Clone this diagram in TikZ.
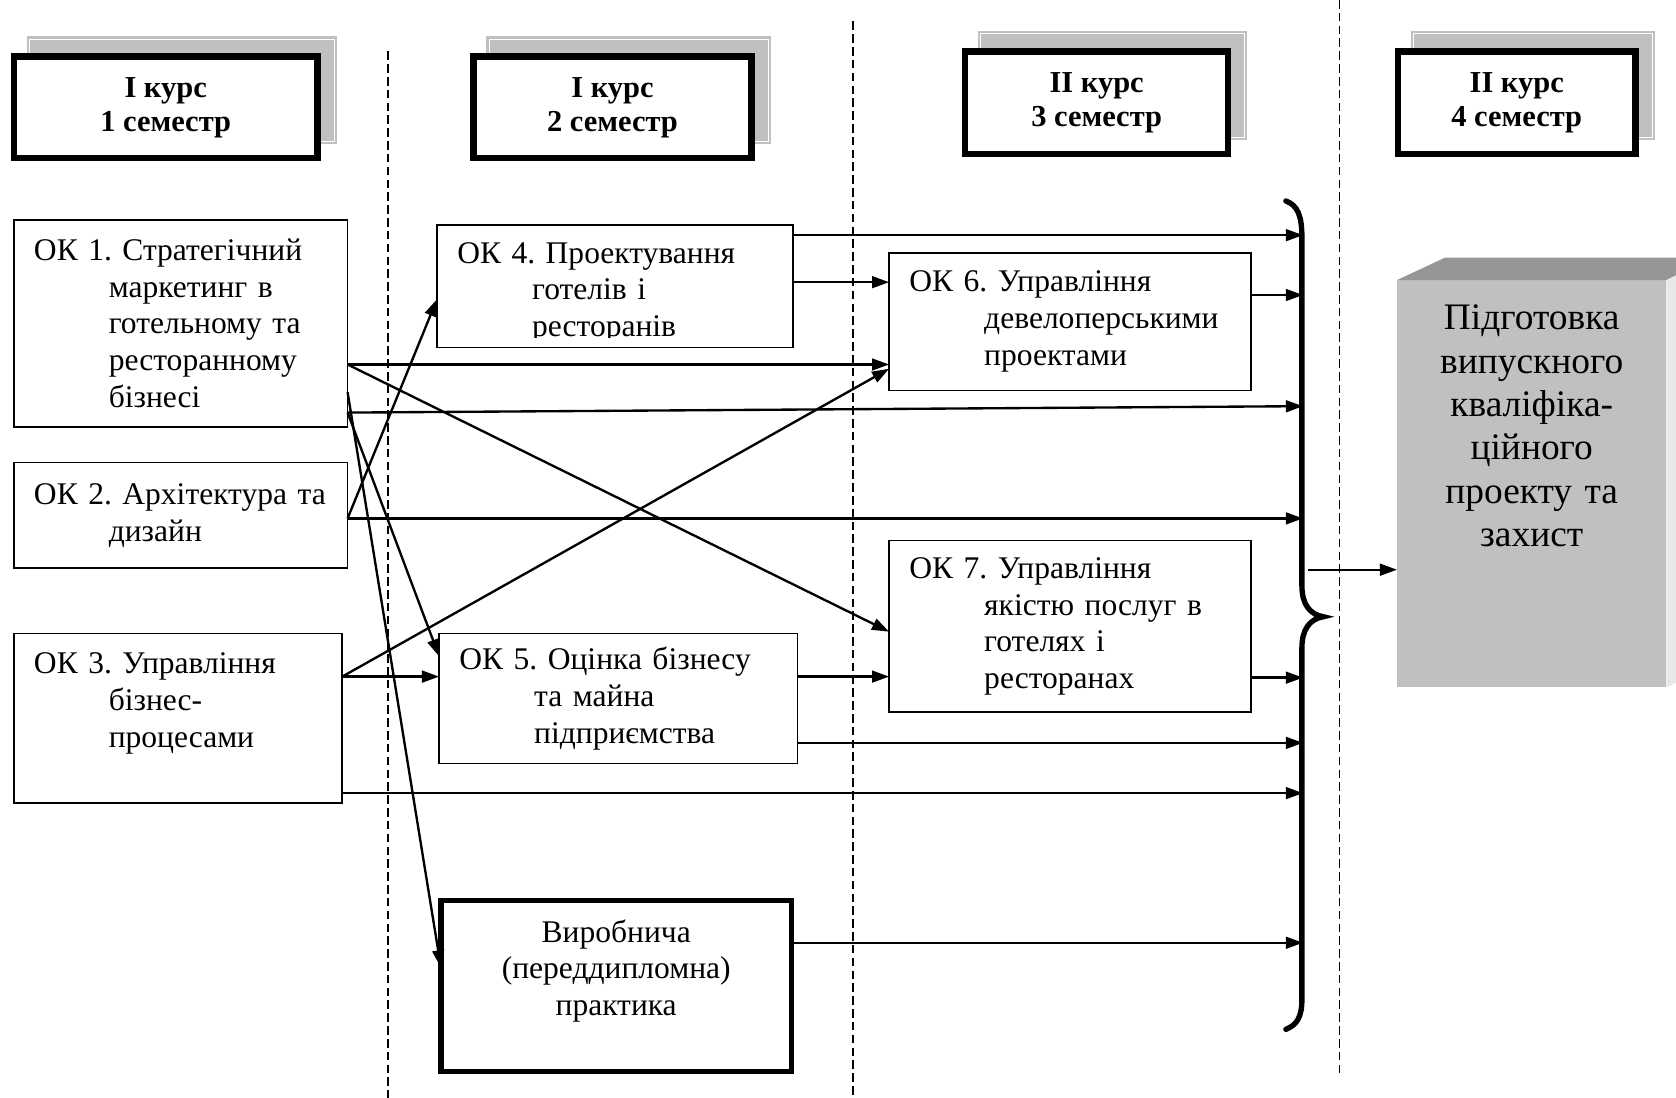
\documentclass[tikz,border=0pt]{standalone}
\usepackage{fontspec}
\setmainfont{Liberation Serif}
\frenchspacing
\usetikzlibrary{arrows.meta,backgrounds}
\definecolor{shadowgray}{RGB}{192,192,192}
\definecolor{topgray}{RGB}{150,150,150}
\definecolor{sidegray}{RGB}{232,232,232}
\newcommand{\indok}{\hspace*{70pt}}
\tikzset{
  okbox/.style={draw, line width=1.6pt, outer sep=0pt, inner xsep=19pt, inner ysep=0pt, align=left, font=\fontsize{29.5}{34.5}\selectfont},
  kursbox/.style={draw, fill=white, line width=6pt, outer sep=0pt, align=center, font=\bfseries\fontsize{28.5}{32}\selectfont},
  arr/.style={-{Triangle[length=16pt,width=11pt]}, line width=2.2pt},
  semline/.style={line width=1.3pt, dash pattern=on 8pt off 4pt}
}
\begin{document}
\begin{tikzpicture}[x=1pt,y=-1pt]
\useasboundingbox (0,0) rectangle (1568,1027);
\clip (0,0) rectangle (1568,1027);
\draw[semline] (363,48) -- (363,1027);
\draw[semline] (798,20) -- (798,1027);
\draw[semline] (1253,0) -- (1253,1005);
\node[kursbox, minimum width=284pt, minimum height=95pt] (h1) at (155,100.5) {I курс\\1 семестр};
\node[kursbox, minimum width=260pt, minimum height=95pt] (h2) at (573,100.5) {I курс\\2 семестр};
\node[kursbox, minimum width=246pt, minimum height=96pt] (h3) at (1026,96) {II курс\\3 семестр};
\node[kursbox, minimum width=222pt, minimum height=96pt] (h4) at (1419,96) {II курс\\4 семестр};
\begin{scope}[on background layer]
\foreach \h in {h1,h2,h3,h4}{
  \fill[shadowgray] ([shift={(12,-13)}]\h.south west) rectangle ([shift={(18,-19)}]\h.north east);
  \draw[white, line width=0.8pt] ([shift={(14.5,-15.5)}]\h.south west) rectangle ([shift={(15.5,-16.5)}]\h.north east);
}
\end{scope}
\node[okbox, text width=274.4pt, minimum height=193.4pt] (ok1) at (169,302.5) {ОК 1. Стратегічний\\\indok маркетинг в\\\indok готельному та\\\indok ресторанному\\\indok бізнесі};
\node[okbox, text width=274.4pt, minimum height=98.4pt] (ok2) at (169,482) {ОК 2. Архітектура та\\\indok дизайн};
\node[okbox, text width=269.4pt, minimum height=158.4pt] (ok3) at (166.5,672) {ОК 3. Управління\\\indok бізнес-\\\indok процесами\\\mbox{}};
\node[okbox, minimum width=333.4pt, minimum height=114.4pt] (ok4) at (575.5,268) {};
\begin{scope}
\clip (ok4.north west) rectangle ([yshift=9pt]ok4.south east);
\node[okbox, draw=none, text width=295.4pt, minimum height=114.4pt] (ok4t) at ([yshift=-6pt]ok4.center) {ОК 4. Проектування\\\indok готелів і\\\indok ресторанів};
\end{scope}
\node[okbox, text width=297.4pt, minimum height=121.4pt] (ok5) at (578.5,653.5) {ОК 5. Оцінка бізнесу\\\indok та майна\\\indok підприємства};
\node[okbox, text width=300.4pt, minimum height=128.4pt] (ok6) at (1001,301) {ОК 6. Управління\\\indok девелоперськими\\\indok проектами};
\node[okbox, text width=300.4pt, minimum height=160.4pt] (ok7) at (1001,586) {ОК 7. Управління\\\indok якістю послуг в\\\indok готелях і\\\indok ресторанах};
\node[draw, line width=5pt, outer sep=0pt, minimum width=328pt, minimum height=160pt, align=center, font=\fontsize{29.5}{34.5}\selectfont] (prak) at (576.5,922.5) {Виробнича\\(переддипломна)\\практика\\\mbox{}};
\node[fill=shadowgray, outer sep=0pt, inner sep=0pt, minimum width=252pt, minimum height=381pt, text width=240pt, align=center, font=\fontsize{35}{40.5}\selectfont] (vkr) at (1433,452.5) {Підготовка\\випускного\\кваліфіка-\\ційного\\проекту та\\захист\\[68pt]\mbox{}};
\fill[topgray] (vkr.north west) -- ++(45,-21) -- ([shift={(45,-21)}]vkr.north east) -- (vkr.north east) -- cycle;
\fill[sidegray] (vkr.north east) -- ++(45,-21) -- ([shift={(45,-21)}]vkr.south east) -- (vkr.south east) -- cycle;
\draw[line width=5pt, line cap=round] (1203,188) .. controls (1214,192) and (1218,202) .. (1218,222) -- (1218,548) .. controls (1218,566) and (1226,575) .. (1238,577) .. controls (1226,579) and (1218,588) .. (1218,606) -- (1218,935) .. controls (1218,952) and (1213,959) .. (1203,963);
\coordinate (b1) at (1219,220);
\coordinate (b2) at (1219,276);
\coordinate (b3) at (1219,380);
\coordinate (b4) at (1219,485);
\coordinate (b5) at (1219,634);
\coordinate (b6) at (1219,695);
\coordinate (b7) at (1219,742);
\coordinate (b8) at (1219,882);
\coordinate (bout) at (1224,533);
\coordinate (in4) at ([yshift=-12pt]ok4.west);
\coordinate (in5a) at ([yshift=39.5pt]ok5.west);
\coordinate (in5b) at ([yshift=20.5pt]ok5.west);
\coordinate (in6a) at ([yshift=37pt]ok6.west);
\coordinate (in6b) at ([yshift=-40pt]ok6.west);
\coordinate (in6c) at ([yshift=-44pt]ok6.west);
\coordinate (in7a) at ([yshift=-5pt]ok7.west);
\coordinate (in7b) at ([yshift=-47pt]ok7.west);
\coordinate (inp) at ([yshift=17.5pt]prak.west);
\draw[arr] (ok4.east |- b1) -- (b1);
\draw[arr] (ok4.east |- in6a) -- (in6a);
\draw[arr] (ok6.east |- b2) -- (b2);
\draw[arr] (ok1.east |- in6b) -- (in6b);
\draw[arr] (ok1.east |- in6b) -- (in7a);
\draw[arr] ([yshift=-64.5pt]ok1.east) -- (inp);
\draw[arr] ([yshift=-83.5pt]ok1.east) -- (b3);
\draw[arr] ([yshift=-83.5pt]ok1.east) -- (in5a);
\draw[arr] (ok2.east |- b4) -- (b4);
\draw[arr] (ok2.east |- b4) -- (in4);
\draw[arr] (ok3.east |- in5b) -- (in5b);
\draw[arr] (ok3.east |- in5b) -- (in6c);
\draw[arr] (ok3.east |- b7) -- (b7);
\draw[arr] (ok5.east |- in7b) -- (in7b);
\draw[arr] (ok7.east |- b5) -- (b5);
\draw[arr] (ok5.east |- b6) -- (b6);
\draw[arr] (prak.east |- b8) -- (b8);
\draw[arr] (bout) -- (vkr.west |- bout);
\end{tikzpicture}
\end{document}
